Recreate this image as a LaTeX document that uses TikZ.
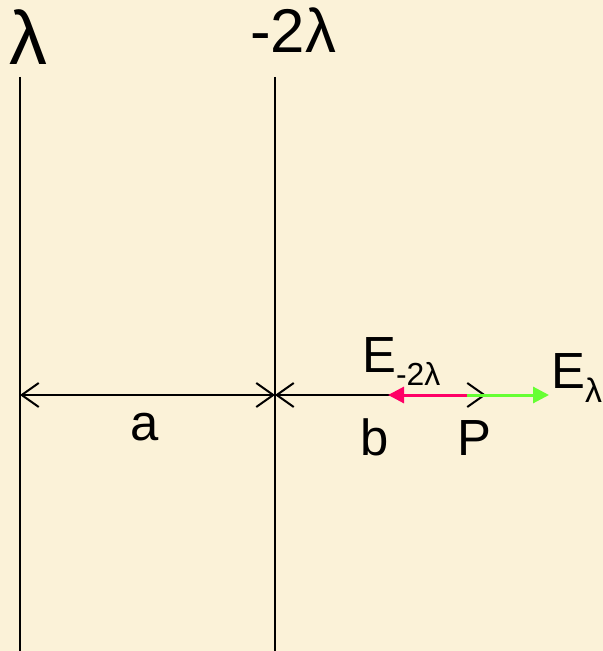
\documentclass[tikz,border=0pt]{standalone}
\usepackage{fontspec}
\setmainfont{Liberation Sans}
\usetikzlibrary{arrows.meta}
\definecolor{parch}{RGB}{251,242,216}
\definecolor{fieldred}{RGB}{255,0,102}
\definecolor{fieldgreen}{RGB}{102,255,51}
\newcommand{\fsz}[1]{\fontsize{#1}{#1}\selectfont}

\begin{document}
\begin{tikzpicture}[x=1bp, y=-1bp,
  wire/.style={line width=2bp},
  dim/.style={wire, {Straight Barb[length=17bp,width=24bp]}-{Straight Barb[length=17bp,width=24bp]}},
  field/.style={line width=3bp, -{Triangle[length=16bp,width=16bp]}},
  lbl/.style={inner sep=0pt, anchor=base}]
\fill[parch] (0,0) rectangle (603,651);
\useasboundingbox (0,0) rectangle (603,651);
% the two charged lines
\coordinate (lamtop) at (20,77);
\coordinate (lambot) at (20,651);
\coordinate (negtop) at (275,77);
\coordinate (negbot) at (275,651);
\draw[wire] (lamtop) -- (lambot);
\draw[wire] (negtop) -- (negbot);
\node[lbl, font=\fsz{76}] (lamlbl) at (28,65) {λ};
\node[lbl, font=\fsz{62}] (neglbl) at (293,53) {-2λ};
% distances
\coordinate (lamax) at (20,395);
\coordinate (negax) at (275,395);
\coordinate (ptP) at (486,395);
\draw[dim] (lamax) -- (negax);
\draw[dim] (negax) -- (ptP);
\node[lbl, font=\fsz{51}] (alab) at (145,440) {a};
\node[lbl, font=\fsz{51}] (blab) at (375,455) {b};
\node[lbl, font=\fsz{51}] (plab) at (474,455) {P};
% fields at P
\coordinate (fieldP) at (467,395);
\coordinate (redend) at (388,395);
\coordinate (greenend) at (549,395);
\draw[field, fieldred] (fieldP) -- (redend);
\draw[field, fieldgreen] (fieldP) -- (greenend);
\node[lbl, anchor=base west, font=\fsz{51}] (eneg) at (362,372)
  {E\raisebox{-13bp}{\fsz{32}-2λ}};
\node[lbl, anchor=base west, font=\fsz{51}] (elam) at (551,388)
  {E\raisebox{-14bp}{\fsz{34}λ}};
\end{tikzpicture}
\end{document}
